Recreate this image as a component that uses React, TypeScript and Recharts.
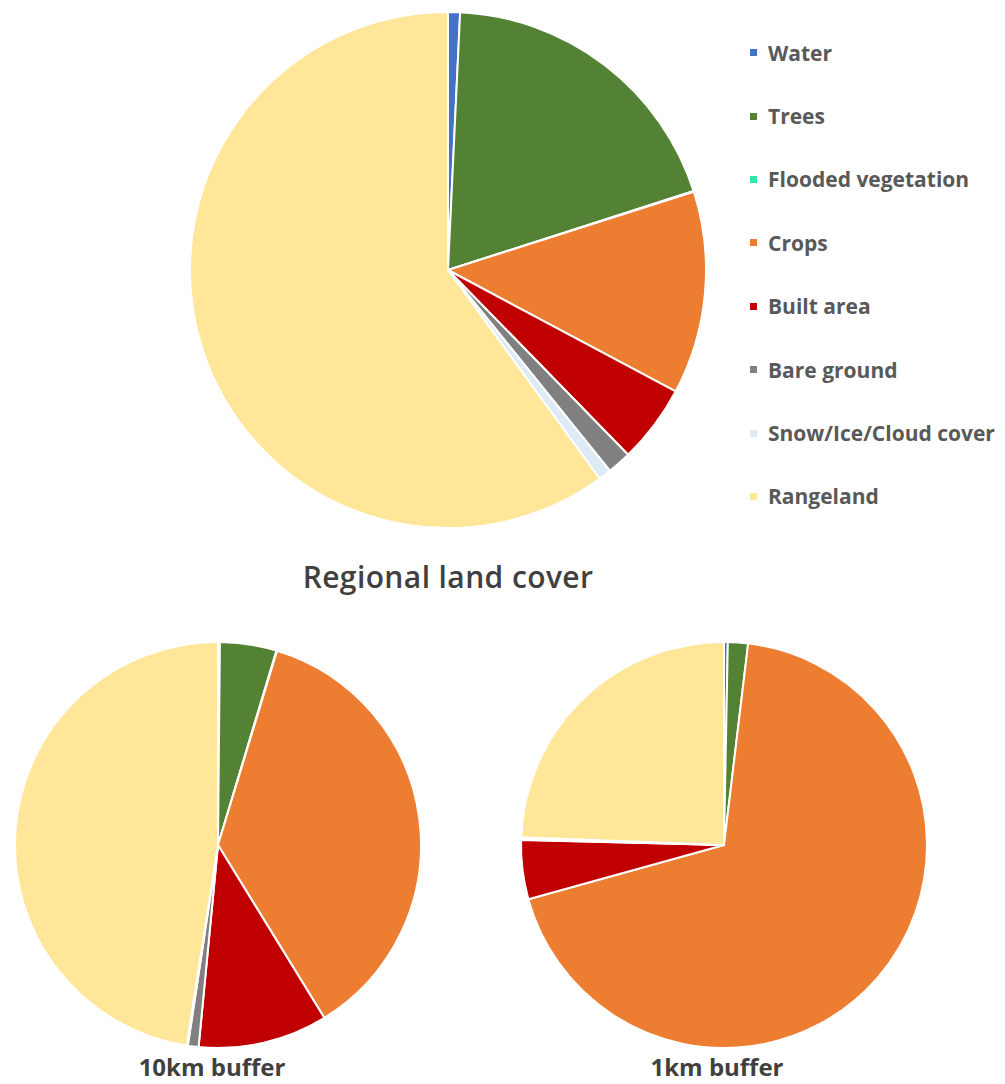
import React from 'react';
import { PieChart, Pie, Cell, Legend } from 'recharts';

const categories = [
  'Water',
  'Trees',
  'Flooded vegetation',
  'Crops',
  'Built area',
  'Bare ground',
  'Snow/Ice/Cloud cover',
  'Rangeland',
];

const colors = ['#4472C4', '#548235', '#2EE8A6', '#ED7D31', '#C00000', '#808080', '#DDEBF7', '#FFE699'];

// percent of area
const regionalValues = [0.75, 19.3, 0.05, 12.7, 4.9, 1.5, 0.8, 60.0];
const buffer10kmValues = [0.15, 4.5, 0.05, 36.5, 10.3, 0.85, 0.1, 47.5];
const buffer1kmValues = [0.3, 1.6, 0, 68.8, 4.7, 0.1, 0.1, 24.4];

const chartTitles = ['Regional land cover', '10km buffer', '1km buffer'];

function toRows(values: number[]) {
  return categories.map((name, i) => ({ name, value: values[i] }));
}

const FONT = '"Open Sans", Lato, sans-serif';

function LegendList() {
  return (
    <div style={{ fontFamily: FONT }}>
      {categories.map((name, i) => (
        <div
          key={name}
          style={{ display: 'flex', alignItems: 'center', height: 63.4 }}
        >
          <span
            style={{
              display: 'inline-block',
              width: 7,
              height: 7,
              background: colors[i],
              marginRight: 11,
            }}
          />
          <span style={{ fontSize: 21, fontWeight: 700, color: '#595959', whiteSpace: 'nowrap' }}>{name}</span>
        </div>
      ))}
    </div>
  );
}

function LandPie({ values, cx, cy, r }: { values: number[]; cx: number; cy: number; r: number }) {
  return (
    <Pie
      data={toRows(values)}
      dataKey="value"
      nameKey="name"
      cx={cx}
      cy={cy}
      outerRadius={r}
      startAngle={90}
      endAngle={-270}
      stroke="#ffffff"
      strokeWidth={2}
      isAnimationActive={false}
    >
      {values.map((_, i) => (
        <Cell key={i} fill={colors[i]} />
      ))}
    </Pie>
  );
}

export default function App() {
  return (
    <div style={{ position: 'absolute', left: 0, top: 0, width: 1005, height: 1084, background: '#fff', overflow: 'hidden' }}>
      <PieChart width={1005} height={1084} margin={{ top: 0, right: 0, bottom: 0, left: 0 }}>
        {LandPie({ values: regionalValues, cx: 448, cy: 270, r: 258 })}
        {LandPie({ values: buffer10kmValues, cx: 218, cy: 845, r: 203 })}
        {LandPie({ values: buffer1kmValues, cx: 724, cy: 845, r: 203 })}
        <Legend
          content={() => <LegendList />}
          wrapperStyle={{ position: 'absolute', left: 750, top: 21, width: 255 }}
        />
      </PieChart>
      <div
        style={{
          position: 'absolute',
          left: 198,
          width: 500,
          top: 556,
          textAlign: 'center',
          fontFamily: FONT,
          fontSize: 30,
          fontWeight: 600,
          letterSpacing: 0.4,
          color: '#404040',
        }}
      >
        {chartTitles[0]}
      </div>
      {[212, 717].map((x, i) => (
        <div
          key={x}
          style={{
            position: 'absolute',
            left: x - 150,
            width: 300,
            top: 1055,
            lineHeight: 1,
            textAlign: 'center',
            fontFamily: FONT,
            fontSize: 24,
            fontWeight: 700,
            color: '#404040',
          }}
        >
          {chartTitles[i + 1]}
        </div>
      ))}
    </div>
  );
}
